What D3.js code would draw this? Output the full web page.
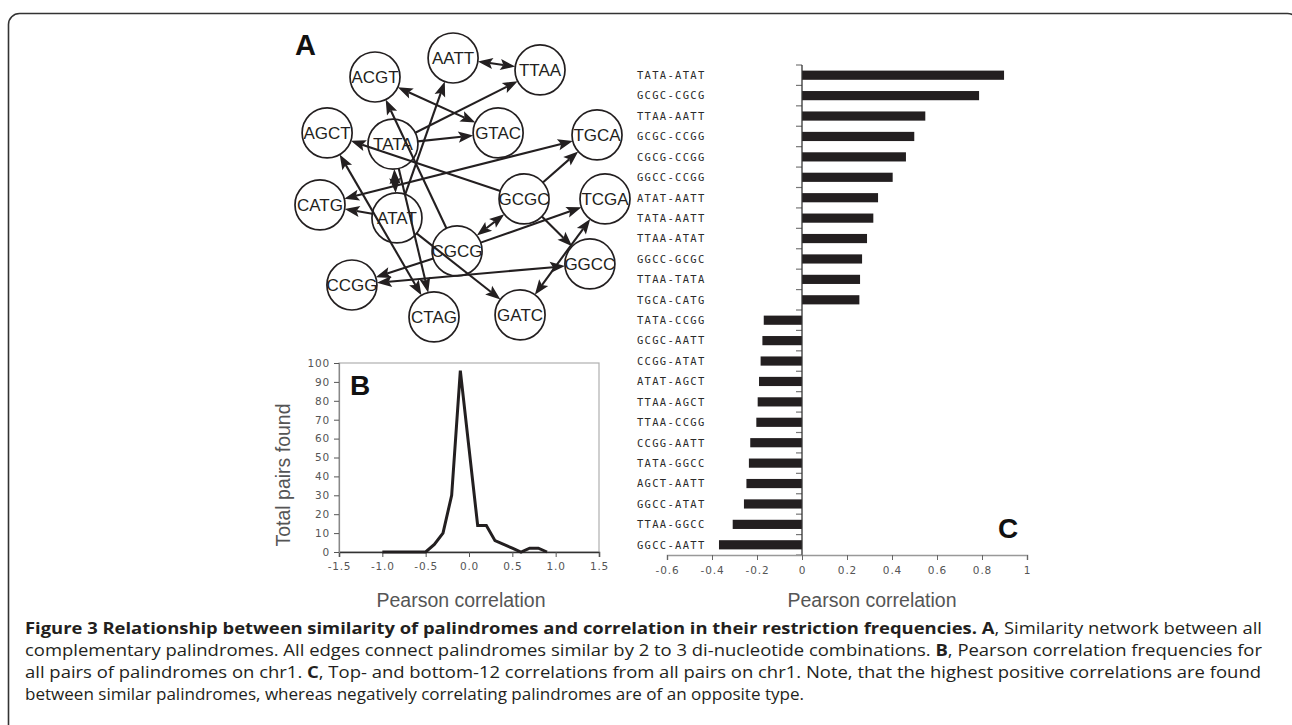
<!DOCTYPE html>
<html><head><meta charset="utf-8">
<script src="https://cdn.jsdelivr.net/npm/d3@7"></script>
<style>body{margin:0;background:#fff} svg{display:block}</style>
</head><body>
<svg id="c" width="1292" height="725"></svg>
<script>
// ---------- Panel A: similarity network (layout units 0..100) ----------
const nodeNames = ["AATT","TTAA","ACGT","AGCT","TATA","GTAC","TGCA","GCGC","TCGA","CATG","ATAT","CGCG","GGCC","CCGG","CTAG","GATC"];
const nodeX     = [46.7, 77.2, 19.3, 2.5, 25.6, 62.5, 97.2, 71.6, 100, 0, 27.0, 48.1, 94.7, 11.2, 40.0, 70.2];
const nodeY     = [0, 4.6, 7.3, 28.8, 33.1, 28.8, 29.6, 54.2, 54.2, 56.5, 61.5, 74.2, 79.2, 87.3, 99.6, 98.8];
const edgeSource = ["AATT","ACGT","TATA","TATA","ATAT","CGCG","GCGC","AGCT","TATA","CATG","ATAT","GCGC","GCGC","CGCG","GCGC","TCGA","CGCG","GGCC","ATAT","TATA"];
const edgeTarget = ["TTAA","GTAC","TTAA","GTAC","AATT","ACGT","AGCT","CTAG","ATAT","TGCA","CATG","TGCA","CGCG","TCGA","GGCC","GATC","CCGG","CCGG","GATC","CTAG"];
const edgeBoth   = [true, true, false, false, false, false, false, true, true, true, false, false, true, false, false, true, false, true, false, false];

// ---------- Panel B: histogram of correlations ----------
const histX = [-1.0,-0.9,-0.8,-0.7,-0.6,-0.5,-0.4,-0.3,-0.2,-0.1,0.0,0.1,0.2,0.3,0.4,0.5,0.6,0.7,0.8,0.9];
const histY = [0,0,0,0,0,0,4,10,30,96,55,14,14,6,4,2,0,2,2,0];
const histXTicks = [-1.5,-1.0,-0.5,0.0,0.5,1.0,1.5];
const histYTicks = [0,10,20,30,40,50,60,70,80,90,100];

// ---------- Panel C: top/bottom-12 correlations ----------
const pairLabels = ["TATA-ATAT","GCGC-CGCG","TTAA-AATT","GCGC-CCGG","CGCG-CCGG","GGCC-CCGG","ATAT-AATT","TATA-AATT","TTAA-ATAT","GGCC-GCGC","TTAA-TATA","TGCA-CATG",
  "TATA-CCGG","GCGC-AATT","CCGG-ATAT","ATAT-AGCT","TTAA-AGCT","TTAA-CCGG","CCGG-AATT","TATA-GGCC","AGCT-AATT","GGCC-ATAT","TTAA-GGCC","GGCC-AATT"];
const pairValues = [0.898,0.787,0.548,0.499,0.462,0.403,0.338,0.317,0.289,0.267,0.258,0.255,
  -0.170,-0.176,-0.184,-0.191,-0.197,-0.203,-0.230,-0.236,-0.247,-0.258,-0.308,-0.369];
const corrTicks = [-0.6,-0.4,-0.2,0,0.2,0.4,0.6,0.8,1];

const captionLines = [
  [["Figure 3 Relationship between similarity of palindromes and correlation in their restriction frequencies. ",true],["A",true],[", Similarity network between all",false]],
  [["complementary palindromes. All edges connect palindromes similar by 2 to 3 di-nucleotide combinations. ",false],["B",true],[", Pearson correlation frequencies for",false]],
  [["all pairs of palindromes on chr1. ",false],["C",true],[", Top- and bottom-12 correlations from all pairs on chr1. Note, that the highest positive correlations are found",false]],
  [["between similar palindromes, whereas negatively correlating palindromes are of an opposite type.",false]]
];

const svg = d3.select("#c");
const INK = "#231f20";

// frame
svg.append("rect").attr("x",8.5).attr("y",13.5).attr("width",1290).attr("height",800)
  .attr("rx",11).attr("fill","none").attr("stroke","#333").attr("stroke-width",1.6);

// ======== Panel A ========
const xA = d3.scaleLinear().domain([0,100]).range([320,605]);
const yA = d3.scaleLinear().domain([0,100]).range([58,318]);
const R = 25;
const pos = {};
nodeNames.forEach((n,i)=>pos[n]=[xA(nodeX[i]), yA(nodeY[i])]);
const gA = svg.append("g");
gA.append("text").attr("x",295).attr("y",55).text("A")
  .attr("font-family","Liberation Sans, Arial, sans-serif").attr("font-weight","bold").attr("font-size",29).attr("fill","#111");

const nodesG = gA.append("g");
nodesG.selectAll("circle").data(nodeNames).join("circle")
  .attr("cx",d=>pos[d][0]).attr("cy",d=>pos[d][1]).attr("r",R)
  .attr("fill","#fff").attr("stroke",INK).attr("stroke-width",1.7);
nodesG.selectAll("text").data(nodeNames).join("text")
  .attr("x",d=>pos[d][0]).attr("y",d=>pos[d][1]+6).attr("text-anchor","middle")
  .attr("font-family","Liberation Sans, Arial, sans-serif").attr("font-size",17).attr("fill",INK).text(d=>d);

const AL = 15, AW = 5.6;
const edges = edgeSource.map((s,i)=>({s, t:edgeTarget[i], both:edgeBoth[i]}));
const edgeG = gA.append("g");
edges.forEach(e=>{
  const [x1,y1]=pos[e.s], [x2,y2]=pos[e.t];
  const dx=x2-x1, dy=y2-y1, L=Math.hypot(dx,dy), ux=dx/L, uy=dy/L;
  let sx=x1+ux*R, sy=y1+uy*R, ex=x2-ux*R, ey=y2-uy*R;
  const heads=[[ex,ey,ux,uy]];
  if(e.both) heads.push([sx,sy,-ux,-uy]);
  const lx1 = e.both ? sx+ux*(AL-3) : sx, ly1 = e.both ? sy+uy*(AL-3) : sy;
  edgeG.append("line").attr("x1",lx1).attr("y1",ly1).attr("x2",ex-ux*(AL-3)).attr("y2",ey-uy*(AL-3))
    .attr("stroke",INK).attr("stroke-width",2.1);
  heads.forEach(([tx,ty,vx,vy])=>{
    const bx=tx-vx*AL, by=ty-vy*AL, px=-vy, py=vx;
    edgeG.append("path").attr("d",`M${tx},${ty}L${bx+px*AW},${by+py*AW}L${tx-vx*AL*0.8},${ty-vy*AL*0.8}L${bx-px*AW},${by-py*AW}Z`)
      .attr("fill",INK);
  });
});

// ======== Panel B ========
const xB = d3.scaleLinear().domain([-1.5,1.5]).range([339,599]);
const yB = d3.scaleLinear().domain([0,100]).range([552,363]);
const gB = svg.append("g");
const fmtB = d=>d.toFixed(1).replace("\u2212","-");
gB.append("rect").attr("x",339).attr("y",363).attr("width",260).attr("height",189)
  .attr("fill","none").attr("stroke","#b0b0b0").attr("stroke-width",1.2);
const axBx = gB.append("g").attr("transform","translate(0,552)")
  .call(d3.axisBottom(xB).tickValues(histXTicks).tickFormat(fmtB).tickSize(5).tickPadding(6));
const axBy = gB.append("g").attr("transform","translate(339,0)")
  .call(d3.axisLeft(yB).tickValues(histYTicks).tickFormat(d=>String(d)).tickSize(5).tickPadding(4));
[axBx,axBy].forEach(a=>{
  a.selectAll("text").attr("font-family","DejaVu Sans, sans-serif").attr("font-size",10.5).attr("fill","#555").attr("letter-spacing",0.8);
  a.selectAll("line").attr("stroke","#555");
});
axBx.select(".domain").attr("stroke","#333").attr("stroke-width",1.5);
axBy.select(".domain").attr("stroke","#888").attr("stroke-width",1.2);
gB.append("path").datum(histX.map((x,i)=>[x,histY[i]]))
  .attr("d",d3.line().x(d=>xB(d[0])).y(d=>yB(d[1])))
  .attr("fill","none").attr("stroke",INK).attr("stroke-width",3).attr("stroke-linejoin","miter");
gB.append("text").attr("x",350).attr("y",395).text("B")
  .attr("font-family","Liberation Sans, Arial, sans-serif").attr("font-weight","bold").attr("font-size",28).attr("fill","#111");
gB.append("text").attr("transform","translate(290,475) rotate(-90)").attr("text-anchor","middle")
  .attr("font-family","Liberation Sans, Arial, sans-serif").attr("font-size",19.5).attr("fill","#555").text("Total pairs found");
gB.append("text").attr("x",461).attr("y",607).attr("text-anchor","middle")
  .attr("font-family","Liberation Sans, Arial, sans-serif").attr("font-size",19.5).attr("fill","#555").text("Pearson correlation");

// ======== Panel C ========
const xC = d3.scaleLinear().domain([-0.6,1]).range([667,1027]);
const yC = d3.scaleBand().domain(pairLabels).range([65,555]).padding(0);
const gC = svg.append("g");
const barH = yC.bandwidth()*0.45;
gC.selectAll("rect.bar").data(pairLabels).join("rect").attr("class","bar")
  .attr("x",(d,i)=>xC(Math.min(0,pairValues[i])))
  .attr("width",(d,i)=>Math.abs(xC(pairValues[i])-xC(0)))
  .attr("y",d=>yC(d)+(yC.bandwidth()-barH)/2).attr("height",barH).attr("fill",INK);
// category ticks at band boundaries
const bounds = pairLabels.map(d=>yC(d)).concat([yC.range()[1]]);
gC.selectAll("line.ct").data(bounds).join("line").attr("class","ct")
  .attr("x1",xC(0)-6).attr("x2",xC(0)).attr("y1",d=>d).attr("y2",d=>d).attr("stroke","#777").attr("stroke-width",1.2);
gC.append("line").attr("x1",xC(0)).attr("x2",xC(0)).attr("y1",65).attr("y2",555).attr("stroke","#333").attr("stroke-width",1.3);
gC.selectAll("text.cl").data(pairLabels).join("text").attr("class","cl")
  .attr("x",xC(-0.6)-30).attr("y",d=>yC(d)+yC.bandwidth()/2+3.8)
  .attr("font-family","DejaVu Sans Mono, monospace").attr("font-size",10.5).attr("letter-spacing",1.3).attr("fill","#2a2a2a").text(d=>d);
const fmtC = d=> d===0?"0":d===1?"1":d.toFixed(1);
const axC = gC.append("g").attr("transform","translate(0,555)")
  .call(d3.axisBottom(xC).tickValues(corrTicks).tickFormat(fmtC).tickSize(5).tickPadding(7));
axC.select(".domain").attr("stroke","#999").attr("stroke-width",1.6);
axC.selectAll("line").attr("stroke","#666");
axC.selectAll("text").attr("font-family","DejaVu Sans, sans-serif").attr("font-size",10.5).attr("fill","#555").attr("letter-spacing",0.9);
gC.append("text").attr("x",998).attr("y",538).text("C")
  .attr("font-family","Liberation Sans, Arial, sans-serif").attr("font-weight","bold").attr("font-size",28).attr("fill","#111");
gC.append("text").attr("x",872).attr("y",607).attr("text-anchor","middle")
  .attr("font-family","Liberation Sans, Arial, sans-serif").attr("font-size",19.5).attr("fill","#555").text("Pearson correlation");

// ======== Caption ========
const capBase = [634,656,678,700];
const capLen = [1237,1237,1236,779];
captionLines.forEach((parts,i)=>{
  const t = svg.append("text").attr("x",25).attr("y",capBase[i])
    .attr("font-family","Open Sans, sans-serif").attr("font-size",16).attr("fill",INK)
    .attr("textLength",capLen[i]).attr("lengthAdjust","spacingAndGlyphs");
  parts.forEach(([s,b])=>t.append("tspan").attr("font-weight",b?"bold":"normal").text(s));
});
</script>
</body></html>
